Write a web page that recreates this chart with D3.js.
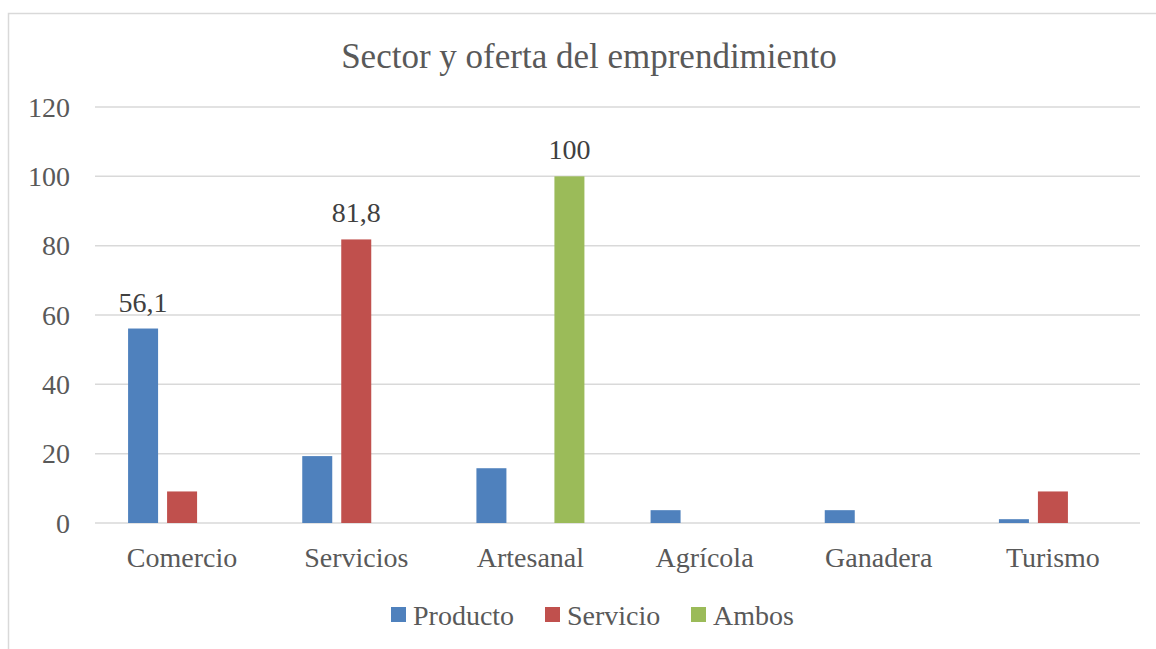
<!DOCTYPE html>
<html>

<head>
    <meta charset=utf-8 />
    <script src="https://cdn.jsdelivr.net/npm/d3@7"></script>
    <title>Sector y oferta del emprendimiento</title>
    <style>
        html,
        body {
            margin: 0;
            background: #fff;
        }

        svg {
            display: block;
        }

        svg text {
            font-family: 'Liberation Serif', 'DejaVu Serif', serif;
        }
    </style>
</head>

<body>
    <div id="svg-canvas"></div>
    <script>
        var categories = ['Comercio', 'Servicios', 'Artesanal', 'Agrícola', 'Ganadera', 'Turismo'];
        var seriesNames = ['Producto', 'Servicio', 'Ambos'];
        var producto = [56.1, 19.3, 15.8, 3.7, 3.7, 1.1];
        var servicio = [9.1, 81.8, 0, 0, 0, 9.1];
        var ambos = [0, 0, 100, 0, 0, 0];
        var colors = ['#4f81bd', '#c0504d', '#9bbb59'];
        var yTicks = [0, 20, 40, 60, 80, 100, 120];
        // only these bars carry a value label in the original
        var labelled = [[0, 0], [1, 1], [2, 2]];

        var values = [producto, servicio, ambos];
        var width = 1156, height = 649;
        var plot = { left: 95, right: 1140, top: 107, bottom: 523 };

        var svg = d3.select('#svg-canvas').append('svg')
            .attr('width', width)
            .attr('height', height);

        // chart frame
        svg.append('rect')
            .attr('x', 8.5).attr('y', 13.5)
            .attr('width', 1160).attr('height', 660)
            .attr('fill', 'none')
            .attr('stroke', '#d9d9d9')
            .attr('stroke-width', 1.5);

        var y = d3.scaleLinear().domain([0, 120]).range([plot.bottom, plot.top]);
        var x0 = d3.scaleBand().domain(categories).range([plot.left, plot.right]);
        var groupW = 117;
        var x1 = d3.scaleBand().domain(seriesNames)
            .range([(x0.bandwidth() - groupW) / 2, (x0.bandwidth() + groupW) / 2])
            .paddingInner(9 / 39).paddingOuter(4.5 / 39);

        // gridlines
        svg.append('g').selectAll('line')
            .data(yTicks)
            .enter().append('line')
            .attr('x1', plot.left).attr('x2', plot.right)
            .attr('y1', d => y(d)).attr('y2', d => y(d))
            .attr('stroke', '#d9d9d9')
            .attr('stroke-width', 1.5);

        // y tick labels
        svg.append('g').selectAll('text')
            .data(yTicks)
            .enter().append('text')
            .attr('x', 70)
            .attr('y', d => y(d))
            .attr('dy', '0.35em')
            .attr('text-anchor', 'end')
            .attr('font-size', 28)
            .attr('fill', '#595959')
            .text(d => d);

        // bars
        var bars = [];
        categories.forEach((c, i) => {
            seriesNames.forEach((s, j) => {
                bars.push({ cat: c, series: s, j: j, v: values[j][i] });
            });
        });

        svg.append('g').selectAll('rect')
            .data(bars.filter(d => d.v > 0))
            .enter().append('rect')
            .attr('x', d => x0(d.cat) + x1(d.series))
            .attr('width', x1.bandwidth())
            .attr('y', d => y(d.v))
            .attr('height', d => y(0) - y(d.v))
            .attr('fill', d => colors[d.j]);

        // value labels
        svg.append('g').selectAll('text')
            .data(labelled)
            .enter().append('text')
            .attr('x', d => x0(categories[d[0]]) + x1(seriesNames[d[1]]) + x1.bandwidth() / 2)
            .attr('y', d => y(values[d[1]][d[0]]) - 17)
            .attr('text-anchor', 'middle')
            .attr('font-size', 28)
            .attr('fill', '#404040')
            .text(d => String(values[d[1]][d[0]]).replace('.', ','));

        // category labels
        svg.append('g').selectAll('text')
            .data(categories)
            .enter().append('text')
            .attr('x', d => x0(d) + x0.bandwidth() / 2)
            .attr('y', 567)
            .attr('text-anchor', 'middle')
            .attr('font-size', 28)
            .attr('fill', '#595959')
            .text(d => d);

        // title
        svg.append('text')
            .attr('x', 589)
            .attr('y', 68)
            .attr('text-anchor', 'middle')
            .attr('font-size', 35)
            .attr('fill', '#595959')
            .text('Sector y oferta del emprendimiento');

        // legend
        var legendX = [391, 545, 691];
        var legend = svg.append('g').selectAll('g')
            .data(seriesNames)
            .enter().append('g')
            .attr('transform', (d, i) => 'translate(' + legendX[i] + ',615)');
        legend.append('rect')
            .attr('x', 0).attr('y', -8)
            .attr('width', 15).attr('height', 15)
            .attr('fill', (d, i) => colors[i]);
        legend.append('text')
            .attr('x', 22)
            .attr('y', 0)
            .attr('dy', '0.35em')
            .attr('font-size', 28)
            .attr('fill', '#595959')
            .text(d => d);
    </script>
</body>

</html>
